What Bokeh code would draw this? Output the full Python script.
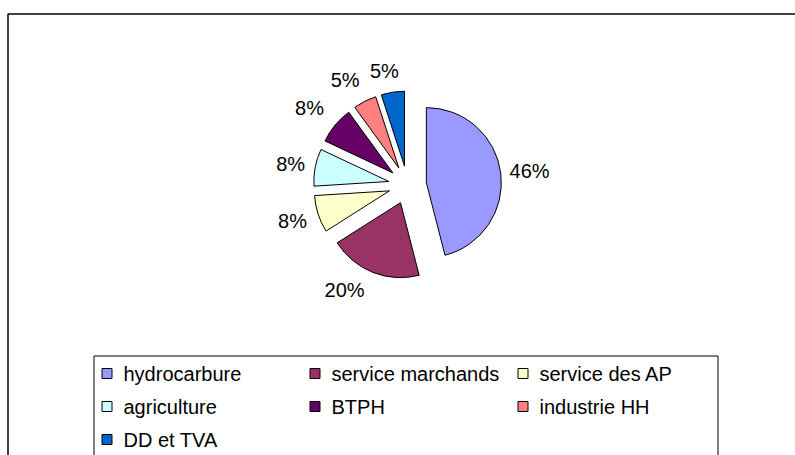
import math
from bokeh.plotting import figure
from bokeh.models import Range1d
from bokeh.core.properties import value
from bokeh.embed import file_html
from bokeh.resources import INLINE

# ---- data ----
categories = ["hydrocarbure", "service marchands", "service des AP",
              "agriculture", "BTPH", "industrie HH", "DD et TVA"]
shares = [46, 20, 8, 8, 8, 5, 5]
colors = ["#9999FF", "#993366", "#FFFFCC", "#CCFFFF", "#660066", "#FF8080", "#0066CC"]

# ---- layout / style (screen pixels) ----
W, H = 795, 455
CX, CY = 407, 184.5       # pie centre
R = 75                     # pie radius
EXPLODE = 19               # explosion distance
LABEL_R = 122              # label distance from centre
label_nudge = [(1, 1), (-18, -8), (1, -2), (3, 2), (-4, 1), (-7, 4), (-4, 6)]
FONT = "Liberation Sans"

p = figure(width=W, height=H, output_backend="svg", toolbar_location=None,
           x_range=Range1d(0, W), y_range=Range1d(-H, 0),
           min_border=0, outline_line_color=None)
p.axis.visible = False
p.xgrid.visible = False
p.ygrid.visible = False
p.background_fill_color = "white"
p.border_fill_color = "white"

# outer chart frame
p.quad(left=[7.5], right=[900], top=[-13.5], bottom=[-600],
       fill_color=None, line_color="black", line_width=1.5)

total = sum(shares)
cum = 0.0
xs, ys, starts, ends, lx, ly, texts = [], [], [], [], [], [], []
for i, v in enumerate(shares):
    f0 = cum / total
    f1 = (cum + v) / total
    cum += v
    a_start = 90 - f1 * 360
    a_end = 90 - f0 * 360
    mid = math.radians((a_start + a_end) / 2)
    xs.append(CX + EXPLODE * math.cos(mid))
    ys.append(-CY + EXPLODE * math.sin(mid))
    starts.append(a_start)
    ends.append(a_end)
    lx.append(CX + LABEL_R * math.cos(mid) + label_nudge[i][0])
    ly.append(-CY + LABEL_R * math.sin(mid) - label_nudge[i][1])
    texts.append(f"{round(100 * v / total)}%")

p.wedge(x=xs, y=ys, radius=R, start_angle=starts, end_angle=ends,
        start_angle_units="deg", end_angle_units="deg",
        fill_color=colors, line_color="black", line_width=1)

p.text(x=lx, y=ly, text=texts, text_font=value(FONT), text_font_size="20px",
       text_align="center", text_baseline="middle", text_color="black")

# legend box
LEG_L, LEG_T, LEG_R = 93.5, 355.5, 717.5
p.quad(left=[LEG_L], right=[LEG_R], top=[-LEG_T], bottom=[-600],
       fill_color="white", line_color="black", line_width=1)

COL0, COLW = 101, 208
ROW0, ROWH = 373, 33
sq_x, sq_y, tx, ty = [], [], [], []
for i, c in enumerate(categories):
    r, col = divmod(i, 3)
    x0 = COL0 + col * COLW
    y0 = ROW0 + r * ROWH
    sq_x.append(x0 + 5.5)
    sq_y.append(-y0)
    tx.append(x0 + 22)
    ty.append(-y0)

p.scatter(x=sq_x, y=sq_y, marker="square", size=10, fill_color=colors,
          line_color="black", line_width=1)
p.text(x=tx, y=ty, text=categories, text_font=value(FONT), text_font_size="20px",
       text_align="left", text_baseline="middle", text_color="black")

open("out.html", "w").write(file_html(p, INLINE))
